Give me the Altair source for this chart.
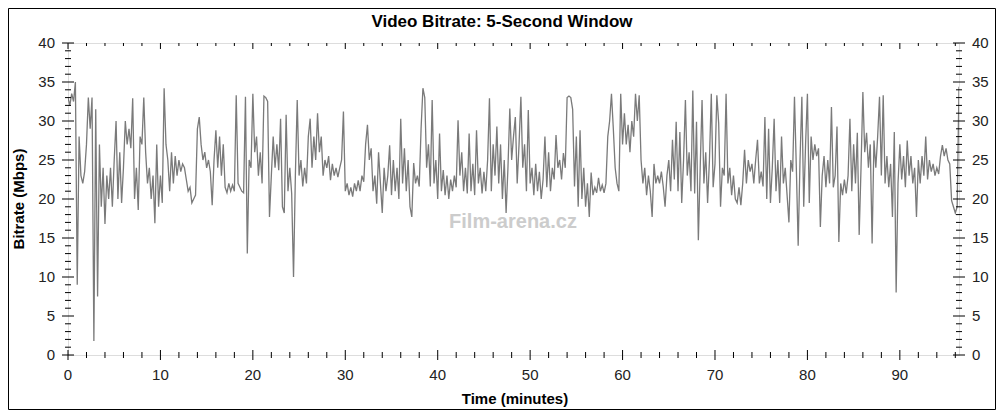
import altair as alt
import pandas as pd

T_STEP = 0.2
bitrate = [
    33, 32, 33.5, 32.5, 35, 9, 28, 23, 22, 23.5,
    27, 33, 29, 33, 1.8, 31.5, 7.5, 27, 19, 24,
    16.8, 23, 20, 24, 19, 25, 30, 20, 26, 19.5,
    24, 30, 27, 29, 26.5, 32.9, 20, 24, 18.6, 28,
    27, 33, 26, 22, 24, 20, 23, 16.9, 27, 19,
    23, 19.5, 34.2, 27, 25, 21, 26, 22, 25.5, 23,
    25, 23.5, 24.5, 24, 22.5, 21, 21.5, 19.5, 20, 20.5,
    29, 30.5, 27, 25, 26, 24, 25, 23.5, 19.2, 25,
    28.8, 24, 28, 23, 27, 21.5, 20.8, 22, 21, 21.8,
    21, 33.3, 22, 21.5, 21, 20.8, 33.1, 13, 25, 24,
    33.5, 26, 28, 23, 26, 22, 33.2, 33, 32.5, 17.7,
    23, 28, 24, 27, 23.7, 30.3, 19, 18.2, 30.8, 21,
    24, 20.7, 10, 23, 32.7, 23, 25, 21.6, 24, 22,
    28, 30.3, 24, 28, 25, 31, 26, 28, 23, 25,
    24, 25.5, 22.4, 24.5, 23, 24, 22.8, 24, 25, 31.2,
    21, 22, 20.5, 21.5, 20.3, 22, 21, 22.4, 21, 23,
    22.2, 27, 29.5, 25, 26.5, 21, 23, 19.4, 26, 22,
    18.2, 24, 21, 23, 26.9, 20.5, 25, 21, 24, 20,
    30.3, 22, 26.5, 21, 25, 19, 17.7, 24.6, 22, 23,
    21.6, 29, 34.2, 33, 24, 27, 21.6, 32.7, 22, 25,
    20, 28.4, 21, 23.7, 20.5, 23, 20, 22.5, 21, 23,
    21.5, 30.1, 23, 26, 21, 24, 20.7, 28.4, 21, 24.5,
    20.5, 28.8, 22, 24, 20.7, 23.5, 21, 25, 32.9, 21,
    27, 23, 29.3, 22, 27, 20, 25, 18.2, 24, 31.6,
    25, 28, 30.5, 22, 27, 33.1, 24, 27, 21, 31.4,
    22, 24, 20.5, 24.5, 21, 23.5, 20, 22.5, 28, 21.5,
    26, 21, 24, 22.5, 28.2, 24, 25, 22.5, 25.9, 24,
    33, 33.2, 33, 31.5, 21.6, 28, 19, 28.8, 20, 24,
    19, 22, 17.7, 23.4, 20.5, 21.5, 20.8, 22.7, 21, 21.8,
    20.8, 22, 28, 30, 33.5, 29, 24, 22, 21, 33.5,
    27, 31, 27, 29.5, 26, 30, 28, 33.5, 30, 33.3,
    25, 22, 24, 20.5, 23, 21, 17.7, 24.5, 22, 23,
    22, 23.5, 21.6, 19, 23, 25, 21, 27.6, 22.5, 29.9,
    21, 28.6, 19.5, 25, 32.7, 23, 26, 21, 33.9, 20.7,
    29.9, 14.7, 24, 32.7, 22, 26, 19.5, 25, 33.5, 21.5,
    24.5, 33.3, 29.7, 19, 24, 23, 33.5, 22, 24, 20.5,
    23, 20, 19.5, 21.5, 19.2, 22, 26.3, 22, 25, 23.5,
    24.5, 22, 25, 27.6, 22, 23.5, 21.6, 30.5, 20, 29,
    19.5, 24, 30.3, 21, 25, 19.5, 28, 22, 24, 20.5,
    17, 25, 23.5, 33.1, 24, 14, 25, 33.1, 19, 27,
    33.5, 19.5, 28, 25, 27, 25.5, 26.5, 16.4, 23, 25.5,
    21.5, 25, 22, 31.8, 21.5, 23, 29.3, 14.5, 22, 20.5,
    22.5, 20.7, 23, 30.3, 21, 27, 22, 28.5, 15.4, 24,
    33.7, 26, 28.5, 24, 27, 14.3, 27.5, 24, 28, 33.1,
    23, 33.3, 22, 25.5, 21.5, 24.5, 17.7, 28.6, 8, 22,
    27, 22.5, 25.5, 21.5, 27.5, 23, 25.5, 22, 24, 17.7,
    25, 22, 25.5, 23, 28, 22.5, 25, 23.5, 24.5, 23,
    24, 23.2, 25.5, 26.9, 25.5, 26.5, 25, 24.5, 19.8, 19,
    18.2, 19, 34.4,
]
minutes = [round(i * T_STEP, 1) for i in range(len(bitrate))]

y_major = [0, 5, 10, 15, 20, 25, 30, 35, 40]
y_minor = [v for v in range(1, 40) if v % 5 != 0]
x_major = [0, 10, 20, 30, 40, 50, 60, 70, 80, 90]
x_minor = [v for v in range(2, 97, 2) if v % 10 != 0]

X_MAX = 96.4
W, H = 891, 312
FONT = "Liberation Sans"
LABEL_COLOR = "#222222"

df = pd.DataFrame({"t": minutes, "v": bitrate})
xs = alt.Scale(domain=[0, X_MAX], nice=False, zero=False)
ys = alt.Scale(domain=[0, 40], nice=False)

line = alt.Chart(df).mark_line(color="#7a7a7a", strokeWidth=1.3, clip=True).encode(
    x=alt.X("t:Q", scale=xs, axis=None),
    y=alt.Y("v:Q", scale=ys, axis=None),
)

ymaj = pd.DataFrame({"v": y_major})
ymin = pd.DataFrame({"v": y_minor})
xmaj = pd.DataFrame({"t": x_major})
xmin = pd.DataFrame({"t": x_minor})

def yrule(d, x1, x2):
    return alt.Chart(d).mark_rule(color="#000000", strokeWidth=1).encode(
        y=alt.Y("v:Q", scale=ys, axis=None), x=alt.value(x1), x2=alt.value(x2))

def xrule(d, y1, y2):
    return alt.Chart(d).mark_rule(color="#000000", strokeWidth=1).encode(
        x=alt.X("t:Q", scale=xs, axis=None), y=alt.value(y1), y2=alt.value(y2))

ticks = [
    yrule(ymaj, -6, 6), yrule(ymin, -3, 3),
    yrule(ymaj, W - 6, W + 6), yrule(ymin, W - 3, W + 3),
    xrule(xmaj, H - 5, H + 5), xrule(xmin, H - 3, H + 3),
    xrule(xmaj, 0, 6), xrule(xmin, 0, 3),
]

def ylabels(xpos, align):
    return alt.Chart(ymaj).mark_text(
        align=align, baseline="middle", fontSize=15, font=FONT, color=LABEL_COLOR
    ).encode(y=alt.Y("v:Q", scale=ys, axis=None), x=alt.value(xpos), text="v:Q")

left_labels = ylabels(-13, "right")
right_labels = ylabels(W + 13, "left")
bottom_labels = alt.Chart(xmaj).mark_text(
    align="center", baseline="alphabetic", fontSize=15, font=FONT, color=LABEL_COLOR
).encode(x=alt.X("t:Q", scale=xs, axis=None), y=alt.value(H + 25), text="t:Q")

def label(txt, x, y, size, angle=0, color="#000000", weight="bold"):
    return alt.Chart(pd.DataFrame({"s": [txt]})).mark_text(
        fontSize=size, fontWeight=weight, font=FONT, color=color,
        align="center", baseline="alphabetic", angle=angle
    ).encode(x=alt.value(x), y=alt.value(y), text="s:N")

title = label("Video Bitrate: 5-Second Window", 434, -16, 17)
xtitle = label("Time (minutes)", 447, 361, 15)
ytitle = label("Bitrate (Mbps)", -44, H / 2, 15, angle=270)
watermark = label("Film-arena.cz", 445, 185, 20, color="#cccccc")

frame = alt.Chart(pd.DataFrame({"a": [0]})).mark_rect(
    fillOpacity=0, stroke="#000000", strokeWidth=1
).encode(x=alt.value(-59.5), x2=alt.value(W + 36.5), y=alt.value(-34.5), y2=alt.value(H + 54.5))

chart = alt.layer(
    line, *ticks, left_labels, right_labels, bottom_labels,
    title, xtitle, ytitle, watermark, frame
).properties(
    width=W, height=H,
    padding={"left": 60, "top": 35, "right": 37, "bottom": 55},
    autosize=alt.AutoSizeParams(type="none"),
).configure_view(stroke="#000000", strokeWidth=1).configure(background="white")

chart.save("out.html", embed_options={"renderer": "svg", "actions": False})
